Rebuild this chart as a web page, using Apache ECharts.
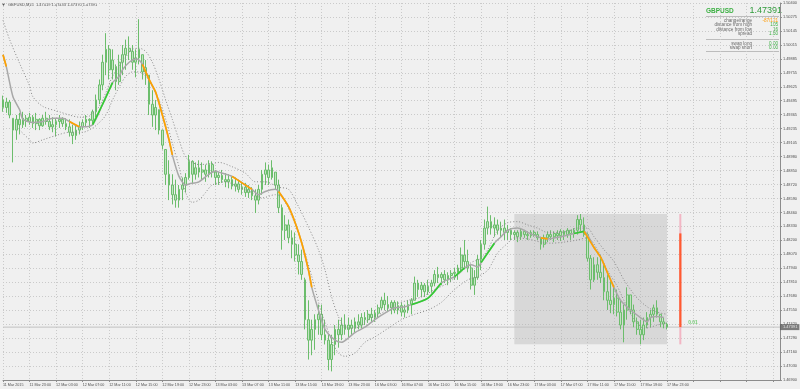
<!DOCTYPE html>
<html><head><meta charset="utf-8">
<script src="https://cdn.jsdelivr.net/npm/echarts/dist/echarts.min.js"></script>
<style>html,body{margin:0;padding:0;background:#f0f0f0}#c{width:800px;height:389px}</style>
</head><body><div id="c"></div><script>
// ---- data ----
const timeLabels = ["11 Mar 2015","11 Mar 23:00","12 Mar 03:00","12 Mar 07:00","12 Mar 11:00","12 Mar 15:00","12 Mar 19:00","12 Mar 23:00","13 Mar 03:00","13 Mar 07:00","13 Mar 11:00","13 Mar 15:00","13 Mar 19:00","13 Mar 23:00","16 Mar 03:00","16 Mar 07:00","16 Mar 11:00","16 Mar 15:00","16 Mar 19:00","16 Mar 23:00","17 Mar 03:00","17 Mar 07:00","17 Mar 11:00","17 Mar 15:00","17 Mar 19:00","17 Mar 23:00"];
const priceLabels = ["1.46900","1.47030","1.47160","1.47290","1.47420","1.47550","1.47680","1.47810","1.47940","1.48070","1.48200","1.48330","1.48460","1.48590","1.48720","1.48850","1.48980","1.49105","1.49235","1.49365","1.49495","1.49625","1.49755","1.49885","1.50015","1.50145","1.50275","1.50400"];
const priceMin = 1.469, priceMax = 1.504;
const barHigh = [1.4954,1.4952,1.4950,1.4933,1.4936,1.4938,1.4939,1.4936,1.4938,1.4936,
1.4938,1.4933,1.4936,1.4939,1.4936,1.4934,1.4933,1.4936,1.4934,1.4933,
1.4932,1.4927,1.4927,1.4930,1.4932,1.4936,1.4933,1.4941,1.4955,1.4969,
1.4992,1.5012,1.5001,1.4997,1.4983,1.4992,1.5001,1.5006,1.5009,1.5001,
1.4997,1.5025,1.4992,1.4987,1.4973,1.4959,1.4950,1.4941,1.4922,1.4904,
1.4894,1.4881,1.4876,1.4871,1.4878,1.4882,1.4899,1.4894,1.4892,1.4894,
1.4892,1.4890,1.4894,1.4893,1.4885,1.4883,1.4885,1.4882,1.4881,1.4879,
1.4878,1.4876,1.4874,1.4873,1.4871,1.4869,1.4867,1.4871,1.4885,1.4892,
1.4890,1.4894,1.4883,1.4876,1.4853,1.4843,1.4839,1.4829,1.4827,1.4816,
1.4811,1.4785,1.4764,1.4746,1.4751,1.4760,1.4760,1.4746,1.4732,1.4732,
1.4741,1.4746,1.4748,1.4751,1.4748,1.4746,1.4748,1.4751,1.4752,1.4753,
1.4755,1.4757,1.4755,1.4760,1.4767,1.4771,1.4768,1.4764,1.4764,1.4763,
1.4762,1.4760,1.4764,1.4766,1.4786,1.4783,1.4781,1.4780,1.4783,1.4783,
1.4792,1.4795,1.4790,1.4792,1.4790,1.4792,1.4794,1.4797,1.4813,1.4820,
1.4811,1.4797,1.4792,1.4806,1.4820,1.4839,1.4851,1.4843,1.4841,1.4839,
1.4837,1.4839,1.4834,1.4831,1.4829,1.4829,1.4831,1.4829,1.4828,1.4829,
1.4829,1.4828,1.4823,1.4825,1.4828,1.4829,1.4828,1.4829,1.4830,1.4829,
1.4831,1.4829,1.4831,1.4843,1.48441,1.4841,1.4827,1.4806,1.4804,1.4804,
1.4806,1.4797,1.4788,1.4783,1.4778,1.4774,1.4764,1.4760,1.4776,1.4769,
1.4760,1.4748,1.4746,1.4748,1.4753,1.4755,1.4760,1.4764,1.4751,1.4748,
1.47433];
const barLow = [1.4939,1.4938,1.4933,1.4892,1.4913,1.4918,1.4924,1.4925,1.4927,1.4924,
1.4922,1.4922,1.4925,1.4927,1.4922,1.4920,1.4916,1.4924,1.4925,1.4922,
1.4916,1.4909,1.4913,1.4918,1.4922,1.4925,1.4924,1.4927,1.4934,1.4946,
1.4959,1.4973,1.4969,1.4969,1.4959,1.4964,1.4973,1.4978,1.4987,1.4978,
1.4971,1.4983,1.4969,1.4964,1.4936,1.4925,1.4922,1.4918,1.4904,1.4871,
1.4857,1.4853,1.4850,1.4850,1.4857,1.4864,1.4876,1.4873,1.4876,1.4878,
1.4876,1.4874,1.4878,1.4878,1.4871,1.4871,1.4873,1.4869,1.4868,1.4867,
1.4865,1.4864,1.4862,1.4860,1.4859,1.4857,1.4845,1.4853,1.4862,1.4871,
1.4871,1.4876,1.4867,1.4845,1.4811,1.4820,1.4817,1.4803,1.4800,1.4788,
1.4783,1.4737,1.4709,1.4713,1.4718,1.4732,1.4727,1.4723,1.4699,1.4698,
1.4713,1.4720,1.4727,1.4732,1.4730,1.4732,1.4734,1.4737,1.4738,1.4741,
1.4743,1.4744,1.4744,1.4748,1.4755,1.4755,1.4753,1.4751,1.4752,1.4751,
1.4749,1.4748,1.4752,1.4751,1.4764,1.4767,1.4767,1.4767,1.4769,1.4771,
1.4777,1.4780,1.4778,1.4780,1.4778,1.4781,1.4783,1.4783,1.4790,1.4794,
1.4790,1.4774,1.4769,1.4783,1.4792,1.4811,1.4825,1.4825,1.4823,1.4825,
1.4822,1.4820,1.4820,1.4820,1.4820,1.4818,1.4820,1.4822,1.4820,1.4822,
1.4823,1.4820,1.4811,1.4813,1.4818,1.4820,1.4818,1.4820,1.4819,1.4820,
1.4822,1.4820,1.4822,1.4825,1.4828,1.4823,1.4800,1.4774,1.4781,1.4783,
1.4780,1.4764,1.4755,1.4752,1.4751,1.4749,1.4737,1.4725,1.4746,1.4751,
1.4739,1.4732,1.47231,1.4727,1.4738,1.4739,1.4744,1.4748,1.4739,1.4738,
1.4737];
const barOpen = [1.4950,1.4943,1.4948,1.4933,1.4922,1.4932,1.4927,1.4933,1.4930,1.4934,
1.4928,1.4932,1.4926,1.4933,1.4930,1.4925,1.4927,1.4930,1.4932,1.4928,
1.4925,1.4920,1.4917,1.4922,1.4925,1.4929,1.4932,1.4931,1.4939,1.4950,
1.4964,1.4985,1.4997,1.4978,1.4981,1.4967,1.4985,1.4992,1.4998,1.4995,
1.4985,1.4989,1.4992,1.4976,1.4973,1.4946,1.4936,1.4941,1.4922,1.4904,
1.4881,1.4871,1.4862,1.4857,1.4867,1.4871,1.4878,1.4893,1.4881,1.4887,
1.4883,1.4885,1.4881,1.4890,1.4883,1.4878,1.4880,1.4876,1.4874,1.4876,
1.4870,1.4872,1.4867,1.4869,1.4864,1.4867,1.4861,1.4857,1.4867,1.4881,
1.4885,1.4878,1.4883,1.4871,1.4850,1.4829,1.4834,1.4822,1.4816,1.4806,
1.4800,1.4783,1.4746,1.4727,1.4737,1.4746,1.4751,1.4732,1.4727,1.4709,
1.4723,1.4737,1.4732,1.4741,1.4737,1.4741,1.4738,1.4744,1.4741,1.4748,
1.4746,1.4751,1.4748,1.4752,1.4757,1.4764,1.4760,1.4757,1.4762,1.4755,
1.4759,1.4753,1.4755,1.4760,1.4764,1.4780,1.4774,1.4778,1.4772,1.4777,
1.4780,1.4788,1.4785,1.4788,1.4783,1.4787,1.4789,1.4790,1.4794,1.4806,
1.4800,1.4794,1.4778,1.4785,1.4802,1.4816,1.4831,1.4837,1.4831,1.4834,
1.4829,1.4831,1.4827,1.4829,1.4825,1.4827,1.4823,1.4828,1.4825,1.4824,
1.4827,1.4825,1.4822,1.4816,1.4822,1.4825,1.4823,1.4826,1.4824,1.4828,
1.4825,1.4829,1.4826,1.4829,1.4839,1.4834,1.4825,1.4803,1.4783,1.4797,
1.4790,1.4785,1.4772,1.4764,1.4760,1.4766,1.4753,1.4741,1.4755,1.4769,
1.4755,1.4744,1.4737,1.4732,1.4741,1.4748,1.4751,1.4757,1.4751,1.4744,
1.47419];
const barClose = [1.4943,1.4948,1.4936,1.4922,1.4932,1.4927,1.4933,1.4930,1.4934,1.4928,
1.4932,1.4926,1.4933,1.4930,1.4925,1.4927,1.4930,1.4932,1.4928,1.4925,
1.4920,1.4917,1.4922,1.4925,1.4929,1.4932,1.4931,1.4939,1.4950,1.4964,
1.4985,1.4997,1.4978,1.4987,1.4967,1.4985,1.4992,1.4998,1.4995,1.4985,
1.4989,1.4997,1.4976,1.4980,1.4946,1.4936,1.4943,1.4922,1.4908,1.4881,
1.4871,1.4862,1.4857,1.4867,1.4871,1.4878,1.4893,1.4881,1.4887,1.4883,
1.4885,1.4881,1.4890,1.4883,1.4878,1.4880,1.4876,1.4874,1.4876,1.4870,
1.4872,1.4867,1.4869,1.4864,1.4867,1.4861,1.4857,1.4867,1.4881,1.4885,
1.4878,1.4887,1.4871,1.4850,1.4829,1.4834,1.4822,1.4816,1.4806,1.4800,
1.4788,1.4746,1.4727,1.4737,1.4746,1.4751,1.4732,1.4727,1.4709,1.4723,
1.4737,1.4732,1.4741,1.4737,1.4741,1.4738,1.4744,1.4741,1.4748,1.4746,
1.4751,1.4748,1.4752,1.4757,1.4764,1.4760,1.4757,1.4762,1.4755,1.4759,
1.4753,1.4755,1.4760,1.4764,1.4780,1.4774,1.4778,1.4772,1.4777,1.4780,
1.4788,1.4785,1.4788,1.4783,1.4787,1.4789,1.4790,1.4794,1.4806,1.4800,
1.4794,1.4778,1.4785,1.4802,1.4816,1.4831,1.4837,1.4831,1.4834,1.4829,
1.4831,1.4827,1.4829,1.4825,1.4827,1.4823,1.4828,1.4825,1.4824,1.4827,
1.4825,1.4822,1.4816,1.4822,1.4825,1.4823,1.4826,1.4824,1.4828,1.4825,
1.4829,1.4826,1.4829,1.4839,1.4834,1.4825,1.4803,1.4783,1.4797,1.4790,
1.4785,1.4772,1.4764,1.4760,1.4766,1.4753,1.4741,1.4755,1.4769,1.4755,
1.4744,1.4737,1.4732,1.4741,1.4748,1.4751,1.4757,1.4751,1.4744,1.4742,
1.47391];
// moving average (index, price)
const maLine = [[0,1.4992],[1,1.4981],[3,1.4953],[5,1.4941],[6,1.4932],[9,1.4929],[12,1.4930],[15,1.4933],[18,1.4933],[20,1.4930],[23,1.4925],[24,1.4925],[27,1.4927],[30,1.4946],[33,1.4966],[35,1.4972],[36,1.4978],[38,1.4985],[40,1.4988],[41,1.4987],[42,1.4983],[44,1.4969],[46,1.4957],[48,1.4936],[50,1.4913],[51,1.4899],[53,1.4879],[55,1.4871],[56,1.4872],[59,1.4874],[62,1.4881],[64,1.4884],[65,1.4883],[69,1.4879],[72,1.4873],[75,1.4867],[77,1.4862],[79,1.4865],[82,1.4867],[83,1.4865],[86,1.4851],[88,1.4836],[90,1.4817],[92,1.4792],[93,1.4776],[95,1.4755],[97,1.4737],[100,1.4727],[102,1.4725],[104,1.4729],[106,1.4734],[109,1.4739],[112,1.4746],[115,1.4752],[118,1.4757],[121,1.4758],[123,1.4760],[128,1.4766],[132,1.4780],[136,1.4786],[139,1.4794],[141,1.4797],[143,1.4795],[144,1.4799],[148,1.4817],[150,1.4823],[152,1.4829],[155,1.4831],[157,1.4829],[158,1.4827],[162,1.4822],[164,1.4821],[168,1.4823],[172,1.4826],[175,1.4828],[178,1.4813],[180,1.4804],[182,1.4790],[184,1.4776],[186,1.4764],[189,1.4755],[192,1.4748],[194,1.4744],[195,1.4748],[197,1.4749],[199,1.4748]];
const maRising = [[27,33],[123,132],[136,139],[144,148],[172,175]];
const maFalling = [[0,1],[20,23],[42,51],[69,75],[83,93],[162,164],[175,184]];
const envUpper = [[0,1.5024],[2,1.5006],[5,1.4984],[8,1.4963],[9,1.4953],[12,1.4944],[17,1.4939],[20,1.4936],[23,1.4934],[26,1.4935],[27,1.4938],[29,1.4944],[31,1.4957],[33,1.4972],[35,1.4981],[37,1.4990],[39,1.4997],[41,1.4998],[43,1.4995],[45,1.4985],[47,1.4969],[49,1.4950],[51,1.4932],[53,1.4913],[55,1.4897],[57,1.4892],[59,1.4890],[63,1.4891],[65,1.4892],[69,1.4888],[73,1.4882],[76,1.4874],[79,1.4874],[83,1.4869],[86,1.4867],[89,1.4851],[92,1.4832],[95,1.4811],[97,1.4792],[99,1.4767],[101,1.4749],[103,1.4739],[106,1.4738],[110,1.4746],[114,1.4752],[118,1.4760],[122,1.4764],[126,1.4767],[130,1.4774],[134,1.4780],[138,1.4790],[141,1.4799],[144,1.4803],[146,1.4811],[149,1.4829],[152,1.4836],[155,1.4837],[158,1.4834],[161,1.4831],[164,1.4827],[167,1.4827],[170,1.4828],[173,1.4831],[176,1.4831],[178,1.4823],[181,1.4811],[184,1.4800],[187,1.4783],[189,1.4774],[191,1.4766],[194,1.4758],[197,1.4753],[200,1.4751]];
const envLower = [[5,1.4922],[8,1.4913],[9,1.4910],[12,1.4913],[17,1.4918],[20,1.4920],[24,1.4920],[27,1.4924],[29,1.4929],[31,1.4936],[33,1.4950],[35,1.4962],[37,1.4972],[39,1.4976],[41,1.4976],[43,1.4972],[45,1.4962],[47,1.4950],[49,1.4932],[51,1.4910],[53,1.4888],[55,1.4864],[57,1.4855],[59,1.4857],[61,1.4864],[63,1.4871],[67,1.4874],[71,1.4869],[75,1.4864],[78,1.4859],[82,1.4862],[84,1.4860],[87,1.4842],[90,1.4817],[93,1.4786],[96,1.4752],[99,1.4727],[101,1.4715],[103,1.4712],[106,1.4715],[109,1.4725],[112,1.4730],[116,1.4738],[120,1.4746],[124,1.4751],[128,1.4755],[132,1.4762],[136,1.4774],[140,1.4783],[143,1.4786],[146,1.4792],[149,1.4808],[152,1.4817],[154,1.4822],[158,1.4821],[162,1.4818],[165,1.4817],[169,1.4818],[173,1.4820],[176,1.4822],[179,1.4811],[182,1.4792],[185,1.4777],[187,1.4764],[189,1.4752],[191,1.4743],[193,1.4738],[195,1.4739],[197,1.4741],[200,1.4743]];
const dayHigh = 1.48441, dayLow = 1.47231, dayOpen = 1.48261, lastPrice = 1.47391;
const rangeStart = 154, rangeEnd = 200, rangeBarIdx = 204;
const categoryCount = 235;
const headerText = "GBPUSD,M15  1.47419 1.47433 1.47370 1.47391";
const panelRows = [["change/range","-87/121"],["distance from high","105"],["distance from low","16"],["spread","1.50"]];
const swapRows = [["swap long","0.00"],["swap short","0.00"]];

// ---- build ----
const cats = Array.from({length: categoryCount}, (_, i) => String(i));
const ohlc = barOpen.map((o, i) => [o, barClose[i], barLow[i], barHigh[i]]);
const FONT = 'Liberation Sans';
const inRange = (r) => maLine.filter(p => p[0] >= r[0] && p[0] <= r[1]);
const segSeries = (ranges, color) => ranges.map(r => ({
  type: 'line', data: inRange(r), showSymbol: false, smooth: 0.25, z: 6, silent: true,
  lineStyle: {color, width: 1.7}
}));

const chart = echarts.init(document.getElementById('c'), null, {renderer: 'canvas'});
const option = {
  backgroundColor: '#f0f0f0',
  animation: false,
  grid: {left: 2, right: 18, top: 3, bottom: 9},
  xAxis: {
    type: 'category', data: cats, boundaryGap: false,
    axisLine: {show: true, lineStyle: {color: '#8c8c8c', width: 1}},
    axisTick: {show: true, interval: (i) => i % 8 === 0, length: 2, lineStyle: {color: '#8c8c8c'}},
    axisLabel: {
      interval: (i) => i % 8 === 0 && i / 8 < timeLabels.length,
      formatter: (v, i) => timeLabels[i / 8] || '',
      fontSize: 3.7, color: '#505050', align: 'left', margin: 3, fontFamily: FONT
    },
    splitLine: {show: true, interval: (i) => i % 8 === 0, lineStyle: {color: '#cacaca', type: [1, 2], width: 1}}
  },
  yAxis: [
    {type: 'value', min: priceMin, max: priceMax, position: 'right', show: false},
    {type: 'value', min: 0, max: priceLabels.length - 1, interval: 1, position: 'right',
     axisLine: {show: true, lineStyle: {color: '#8c8c8c'}},
     axisTick: {show: true, length: 2, lineStyle: {color: '#8c8c8c'}},
     axisLabel: {formatter: (v) => priceLabels[v] || '', fontSize: 3.9, color: '#505050', margin: 3, fontFamily: FONT},
     splitLine: {show: true, lineStyle: {color: '#cacaca', type: [1, 2]}}}
  ],
  series: [
    {type: 'line', data: [], z: 1, silent: true,
     markArea: {silent: true, itemStyle: {color: 'rgba(175,175,175,0.36)'},
       data: [[{coord: [rangeStart, dayHigh]}, {coord: [rangeEnd, dayLow]}]]}},
    // current price line
    {type: 'line', data: [[0, lastPrice], [categoryCount - 1, lastPrice]], showSymbol: false, z: 2, silent: true,
     lineStyle: {color: '#c2c2c2', width: 1}},
    {type: 'line', data: envUpper, showSymbol: false, smooth: 0.3, z: 4, silent: true,
     lineStyle: {color: '#8a8a8a', width: 1, type: [1, 2]}},
    {type: 'line', data: envLower, showSymbol: false, smooth: 0.3, z: 4, silent: true,
     lineStyle: {color: '#8a8a8a', width: 1, type: [1, 2]}},
    {type: 'candlestick', data: ohlc, barWidth: 2.2, z: 3, silent: true,
     itemStyle: {color: '#c0e4c0', color0: '#c0e4c0', borderColor: '#6cbd6c', borderColor0: '#6cbd6c', borderWidth: 1}},
    {type: 'line', data: maLine, showSymbol: false, smooth: 0.25, z: 5, silent: true,
     lineStyle: {color: '#a8a8a8', width: 1.5}},
    ...segSeries(maRising, '#33cc33'),
    ...segSeries(maFalling, '#ffa200'),
    {type: 'line', data: [[rangeBarIdx, dayHigh], [rangeBarIdx, dayLow]], showSymbol: false, z: 7, silent: true,
     lineStyle: {color: '#f2b6c4', width: 2}},
    {type: 'line', data: [[rangeBarIdx, dayOpen], [rangeBarIdx, lastPrice]], showSymbol: false, z: 8, silent: true,
     lineStyle: {color: '#ff5a30', width: 2.2}},
    {type: 'scatter', data: [[rangeBarIdx, lastPrice]], symbolSize: 0, z: 9, silent: true,
     label: {show: true, position: 'right', distance: 8, offset: [0, -4], formatter: '0.01', fontSize: 4.8, fontWeight: 'bold', color: '#55c455', fontFamily: FONT}},
    // price tag on the right axis
    {type: 'scatter', data: [[categoryCount - 1, lastPrice]], symbolSize: 0, z: 20, silent: true, clip: false,
     label: {show: true, position: 'right', distance: 0, formatter: lastPrice.toFixed(5), backgroundColor: '#5e5e5e', color: '#ffffff',
             fontSize: 4, padding: [1, 2, 1, 3], fontFamily: FONT}}
  ],
  graphic: []
};

// header and info panel texts
const g = [];
g.push({type: 'polygon', shape: {points: [[2, 3.5], [5, 3.5], [3.5, 6]]}, style: {fill: '#555'}, silent: true});
g.push({type: 'text', left: 8, top: 3, silent: true, style: {text: headerText, fontSize: 4, fill: '#505050', fontFamily: FONT}});
g.push({type: 'text', left: 706, top: 8, silent: true, style: {text: 'GBPUSD', fontSize: 6.5, fontWeight: 'bold', fill: '#3cb043', fontFamily: FONT}});
g.push({type: 'text', right: 18, top: 6, silent: true, style: {text: lastPrice.toFixed(5), fontSize: 9, fill: '#2f9a3a', fontFamily: FONT}});
g.push({type: 'line', shape: {x1: 706, y1: 16.5, x2: 779, y2: 16.5}, style: {stroke: '#999', lineWidth: 0.6}, silent: true});
panelRows.forEach((r, k) => {
  const y = 18 + k * 4.5;
  g.push({type: 'text', x: 752, y: y, silent: true, style: {text: r[0], fontSize: 4.6, fill: '#6a6a6a', align: 'right', fontFamily: FONT}});
  g.push({type: 'text', x: 778, y: y, silent: true, style: {text: r[1], fontSize: 4.6, fill: k === 0 ? '#ff9a00' : '#3cb043', align: 'right', fontFamily: FONT}});
});
g.push({type: 'line', shape: {x1: 706, y1: 39.5, x2: 779, y2: 39.5}, style: {stroke: '#999', lineWidth: 0.6}, silent: true});
swapRows.forEach((r, k) => {
  const y = 41 + k * 4.5;
  g.push({type: 'text', x: 752, y: y, silent: true, style: {text: r[0], fontSize: 4.6, fill: '#6a6a6a', align: 'right', fontFamily: FONT}});
  g.push({type: 'text', x: 778, y: y, silent: true, style: {text: r[1], fontSize: 4.6, fill: '#3cb043', align: 'right', fontFamily: FONT}});
});
g.push({type: 'line', shape: {x1: 706, y1: 51.5, x2: 779, y2: 51.5}, style: {stroke: '#999', lineWidth: 0.6}, silent: true});
option.graphic = g;
chart.setOption(option);
</script></body></html>
